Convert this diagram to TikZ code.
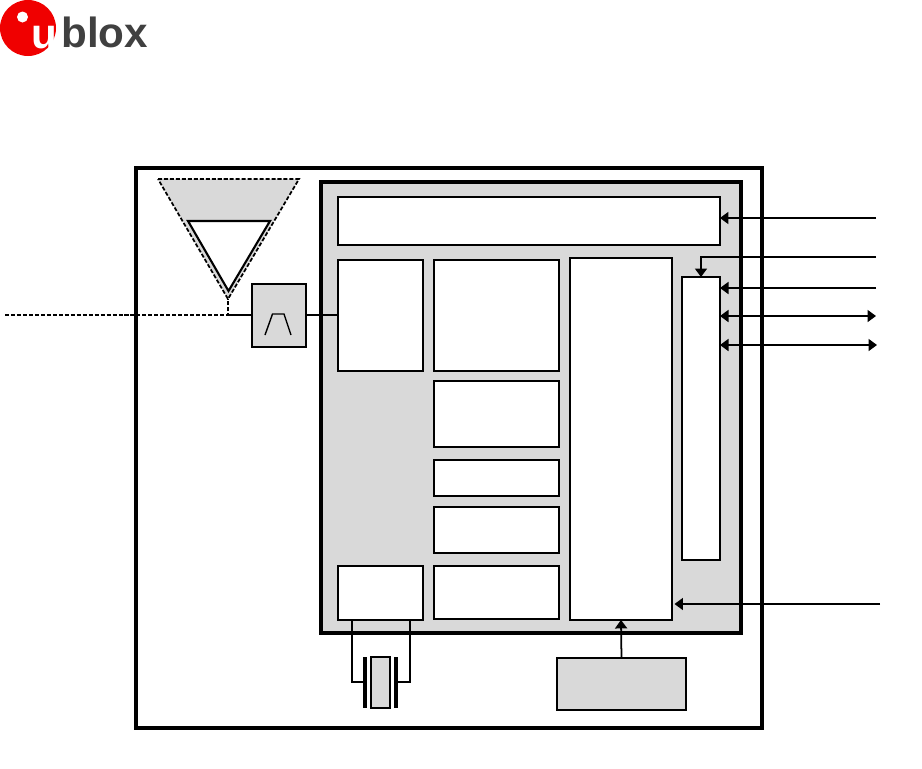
\documentclass[tikz,border=0pt]{standalone}
\usepackage{fontspec}
\setsansfont{Liberation Sans}
\usepackage{xcolor}
\usetikzlibrary{positioning, arrows.meta, calc}
\definecolor{panel}{HTML}{D9D9D9}
\definecolor{logored}{HTML}{F00000}
\definecolor{logogray}{HTML}{404040}

\begin{document}
\begin{tikzpicture}[
  x=0.02cm, y=-0.02cm,
  blk/.style={draw, line width=1.3pt, fill=white, inner sep=0, outer sep=0},
  grp/.style={draw, line width=2pt, inner sep=0, outer sep=0},
  gry/.style={blk, fill=panel},
  wire/.style={line width=0.6pt},
  fine/.style={dash pattern=on 2.3pt off 1.1pt},
  arr/.style={line width=1pt, >={Triangle[length=0.17cm, width=0.24cm]}},
  plate/.style={line width=2pt}
]
  \useasboundingbox (0,0) rectangle (922,768);

  % logo
  \fill[logored] (28,28) circle (28);
  \fill[white] (22.5,17) circle (5.5);
  \node[font=\sffamily\bfseries\fontsize{24pt}{24pt}\selectfont, text=white, inner sep=0, anchor=base west] (logou) at (31,48) {u};
  \node[font=\sffamily\bfseries\fontsize{24pt}{24pt}\selectfont, text=logogray, inner sep=0, anchor=base west] (logotxt) at (61,47) {blox};

  % frames
  \node[grp, anchor=north west, minimum width=12.52cm, minimum height=11.2cm] (board) at (136,168) {};
  \node[grp, anchor=north west, minimum width=8.4cm, minimum height=9.02cm, fill=panel] (chip) at (321,182) {};

  % blocks in the chip
  \node[blk, anchor=north west, minimum width=7.64cm, minimum height=0.96cm] (topblk) at (338,197) {};
  \node[blk, anchor=north west, minimum width=1.7cm, minimum height=2.22cm] (rfblk) at (338,260) {};
  \node[blk, anchor=north west, minimum width=2.5cm, minimum height=2.22cm] (dspa) at (434,260) {};
  \node[blk, minimum width=2.5cm, minimum height=1.32cm, below=0.2cm of dspa] (dspb) {};
  \node[blk, minimum width=2.5cm, minimum height=0.72cm, below=0.26cm of dspb] (dspc) {};
  \node[blk, minimum width=2.5cm, minimum height=0.92cm, below=0.22cm of dspc] (dspd) {};
  \node[blk, minimum width=2.5cm, minimum height=1.06cm, below=0.26cm of dspd] (dspe) {};
  \node[blk, anchor=north west, minimum width=1.7cm, minimum height=1.08cm] (oscblk) at (338,566) {};
  \node[blk, anchor=north west, minimum width=2.04cm, minimum height=7.24cm, line width=1pt] (memblk) at (570,258) {};
  \node[blk, anchor=north west, minimum width=0.76cm, minimum height=5.66cm, line width=1pt] (ioblk) at (682,277) {};

  % outside the chip
  \node[gry, anchor=north west, minimum width=1.08cm, minimum height=1.26cm] (filt) at (252,284) {};
  \node[gry, anchor=north west, minimum width=2.58cm, minimum height=1.04cm, line width=1pt] (pwr) at (557,658) {};
  \node[gry, anchor=north west, minimum width=0.38cm, minimum height=1.02cm] (xtal) at (371,657) {};
  \draw[wire, line width=0.8pt] (265,335) -- (272.5,314) -- (284,314) -- (291,335);

  % antenna
  \coordinate (ant) at (228,299);
  \coordinate (antin) at (228.5,291);
  \coordinate (rfin) at (5,315);
  \coordinate (rfjoin) at (228,315);
  \draw[fill=panel, fine, line width=1pt] (158,179) -- (299,179) -- (ant) -- cycle;
  \draw[fill=white, line width=1.2pt] (188,221) -- (270,221) -- (antin) -- cycle;
  \draw[fine, line width=0.6pt] (rfin) -- (rfjoin) -- (ant);
  \draw[wire] (rfjoin) -- (filt.west |- rfjoin);
  \draw[wire] (filt.east |- rfjoin) -- (rfblk.west |- rfjoin);

  % crystal
  \coordinate (xtall) at (352,682);
  \coordinate (xtalr) at (410,682);
  \draw[plate] (365,657) coordinate (platel) -- (365,708);
  \draw[plate] (396,657) coordinate (plater) -- (396,708);
  \draw[wire, line width=0.9pt] (oscblk.south -| xtall) -- (xtall) -- (platel |- xtall);
  \draw[wire] (oscblk.south -| xtalr) -- (xtalr) -- (plater |- xtalr);

  % pins
  \coordinate (pina) at (876,218);
  \coordinate (pinb) at (876,257);
  \coordinate (pinc) at (876,288);
  \coordinate (pind) at (876,316);
  \coordinate (pine) at (877,345);
  \coordinate (pinf) at (880,604);
  \draw[arr, ->] (pina) -- (topblk.east |- pina);
  \draw[arr, ->] (pinb) -| (ioblk.north);
  \draw[arr, ->] (pinc) -- (ioblk.east |- pinc);
  \draw[arr, <->] (pind) -- (ioblk.east |- pind);
  \draw[arr, <->] (pine) -- (ioblk.east |- pine);
  \draw[arr, ->, shorten >=0.05cm] (pinf) -- (memblk.east |- pinf);
  \draw[arr, ->] (pwr.north) -- (memblk.south);
\end{tikzpicture}
\end{document}
